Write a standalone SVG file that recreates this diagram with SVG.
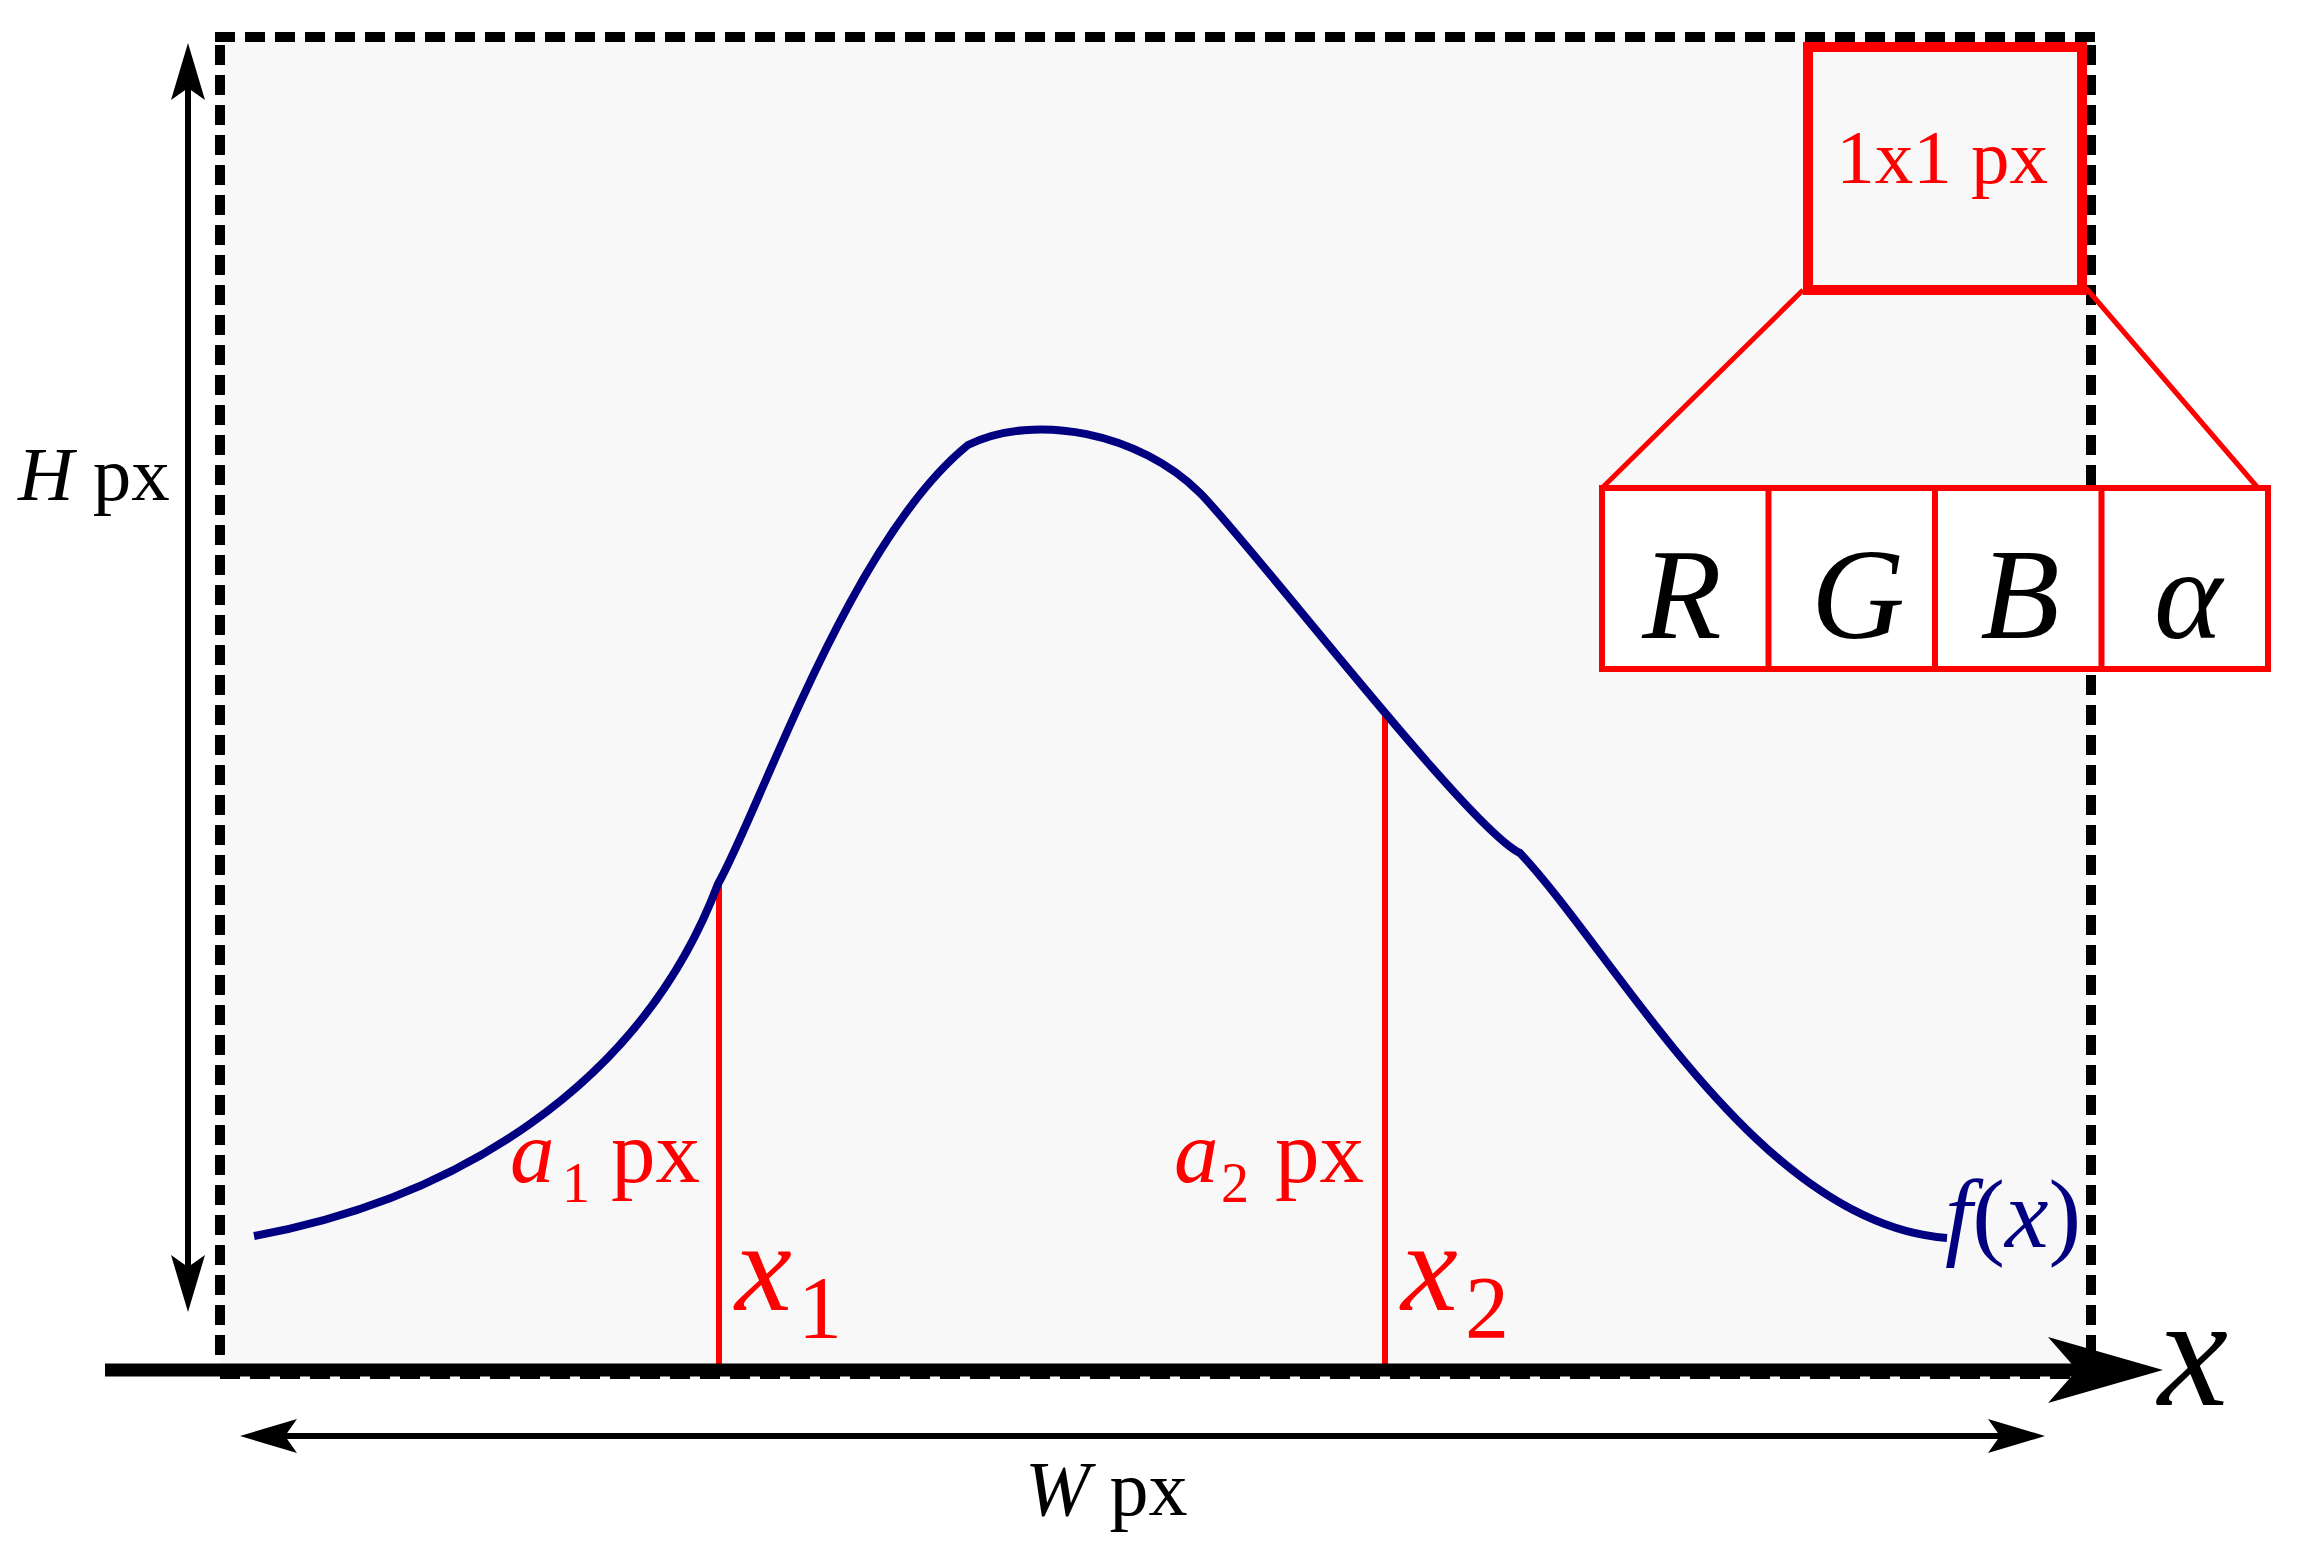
<svg xmlns="http://www.w3.org/2000/svg" width="2298" height="1554" viewBox="0 0 2298 1554">
<style>
.serif{font-family:"Liberation Serif","Times New Roman",serif}
.it{font-style:italic}
.red{fill:#ff0000}
.blk{fill:#000000}
.navy{fill:#000080}
.dash{stroke:#000;stroke-width:10;stroke-dasharray:20 10;fill:none}
.dim{stroke:#000;stroke-width:6;fill:none}
.rl{stroke:#ff0000;fill:none}
</style>
<defs>
<path id="ah" d="M0,0 L-57,-17 L-45,0 L-57,17 Z" fill="#000"/>
<path id="bigah" d="M0,0 L-115,-33 L-86,0 L-115,33 Z" fill="#000"/>
</defs>
<rect width="2298" height="1554" fill="#ffffff"/>
<g id="frame">
<rect x="220" y="37" width="1871" height="1336" fill="#f8f8f8"/>
<line class="dash" x1="215" y1="37" x2="2096" y2="37"/>
<line class="dash" x1="220" y1="45" x2="220" y2="1373"/>
<line class="dash" x1="2091" y1="45" x2="2091" y2="1373"/>
<line class="dash" x1="220" y1="1374" x2="2091" y2="1374"/>
</g>
<g id="connectors">
<line class="rl" x1="719" y1="884" x2="719" y2="1370" stroke-width="6"/>
<line class="rl" x1="1385" y1="714" x2="1385" y2="1370" stroke-width="6"/>
<line class="rl" x1="1803" y1="290" x2="1602" y2="488" stroke-width="5"/>
<line class="rl" x1="2086" y1="288" x2="2258" y2="488" stroke-width="5"/>
<line x1="105" y1="1370" x2="2090" y2="1370" stroke="#000" stroke-width="13"/>
<use href="#bigah" transform="translate(2163,1370)"/>
<line class="dim" x1="188" y1="85" x2="188" y2="1270"/>
<use href="#ah" transform="translate(188,43) rotate(-90)"/>
<use href="#ah" transform="translate(188,1312) rotate(90)"/>
<line class="dim" x1="283" y1="1436" x2="2002" y2="1436"/>
<use href="#ah" transform="translate(2045,1436)"/>
<use href="#ah" transform="translate(240,1436) rotate(180)"/>
</g>
<g id="curve">
<path d="M254,1236 C450,1200 640,1090 718,884 C760,810 850,540 968,445 C1035,412 1140,433 1200,493 C1250,543 1470,830 1520,853 C1620,960 1760,1225 1947,1238" stroke="#000080" stroke-width="8" fill="none"/>
</g>
<g id="pixel">
<rect x="1808" y="47" width="274" height="243" fill="none" stroke="#ff0000" stroke-width="10"/>
<text class="serif red" x="1942" y="183" font-size="77" text-anchor="middle">1x1 px</text>
</g>
<g id="channels" class="serif it blk" font-size="130" text-anchor="middle">
<rect x="1602" y="488" width="666" height="181" fill="#ffffff" stroke="#ff0000" stroke-width="6"/>
<line class="rl" x1="1768.5" y1="488" x2="1768.5" y2="669" stroke-width="6"/>
<line class="rl" x1="1935" y1="488" x2="1935" y2="669" stroke-width="6"/>
<line class="rl" x1="2101.5" y1="488" x2="2101.5" y2="669" stroke-width="6"/>
<text x="1682" y="638">R</text>
<text x="1858" y="638">G</text>
<text x="2020" y="638">B</text>
<text x="2188" y="638">α</text>
</g>
<g id="labels" class="serif">
<text class="blk" x="18" y="500" font-size="77"><tspan class="it">H</tspan> px</text>
<text class="blk" x="1025" y="1515" font-size="78"><tspan class="it">W</tspan> px</text>
<text class="red it" x="510" y="1182" font-size="89">a</text>
<text class="red" x="562" y="1202" font-size="56">1</text>
<text class="red" x="611" y="1182" font-size="89">px</text>
<text class="red it" x="1174" y="1182" font-size="89">a</text>
<text class="red" x="1221" y="1202" font-size="56">2</text>
<text class="red" x="1275" y="1182" font-size="89">px</text>
<text class="red it" x="735" y="1310" font-size="128">x</text>
<text class="red" x="798" y="1337" font-size="88">1</text>
<text class="red it" x="1401" y="1310" font-size="128">x</text>
<text class="red" x="1465" y="1337" font-size="88">2</text>
<text class="blk it" x="2158" y="1405" font-size="158">x</text>
<text class="navy" x="1945" y="1247" font-size="98"><tspan class="it">f</tspan>(<tspan class="it">x</tspan>)</text>
</g>
</svg>
